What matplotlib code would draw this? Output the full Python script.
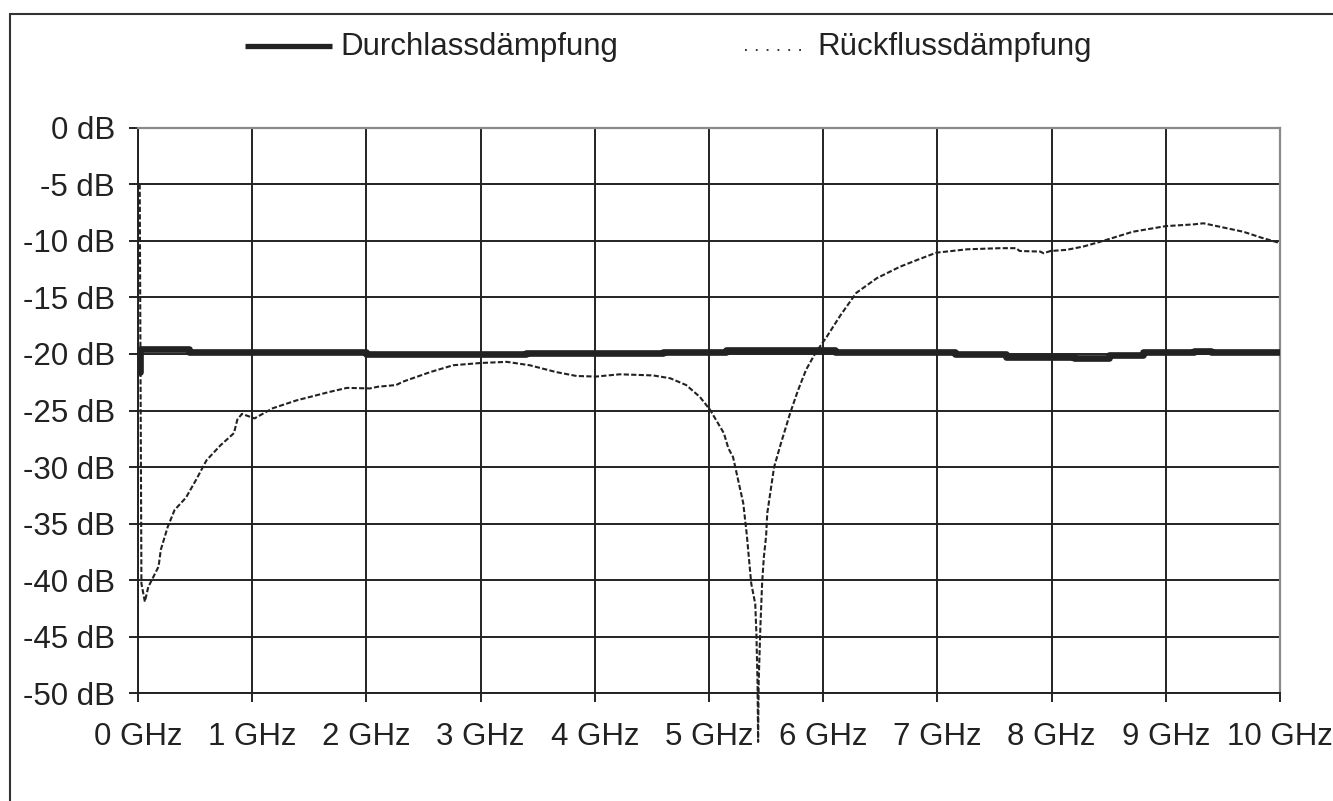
import numpy as np
import matplotlib
matplotlib.use("Agg")
import matplotlib.pyplot as plt
from matplotlib.lines import Line2D
from matplotlib.patches import Rectangle

plt.rcParams['font.family'] = ['Liberation Sans', 'DejaVu Sans']

# Durchlassdämpfung (thick solid, roughly flat around -20 dB), step values
durch_ghz = [0.0, 0.02, 0.45, 2.0, 3.4, 4.6, 5.15, 6.1, 6.7, 7.15, 7.6, 8.2, 8.5, 8.8, 9.25, 9.4, 10.0]
durch_db = [-21.6, -19.6, -19.8, -20.0, -19.9, -19.8, -19.65, -19.8, -19.85, -20.0, -20.25, -20.35,
            -20.1, -19.85, -19.7, -19.85, -19.85]

# Rückflussdämpfung (thin dotted)
rueck_ghz = [0.015, 0.03, 0.06, 0.09, 0.18, 0.2, 0.26, 0.32, 0.42, 0.51, 0.6, 0.72, 0.84, 0.87, 0.91,
             0.98, 1.02, 1.18, 1.39, 1.68, 1.83, 2.03, 2.1, 2.26, 2.32, 2.56, 2.76, 3.0, 3.23, 3.43,
             3.66, 3.84, 4.01, 4.22, 4.51, 4.66, 4.8, 4.92, 5.01, 5.13, 5.17, 5.21, 5.23, 5.3, 5.33,
             5.37, 5.405, 5.415, 5.425, 5.43, 5.435, 5.45, 5.465, 5.48, 5.5, 5.51, 5.57, 5.63, 5.71,
             5.78, 5.85, 5.93, 6.03, 6.15, 6.29, 6.47, 6.67, 6.82, 6.99, 7.26, 7.55, 7.69, 7.72, 7.9,
             7.93, 7.99, 8.13, 8.28, 8.42, 8.71, 9.0, 9.24, 9.33, 9.47, 9.68, 9.83, 10.0]
rueck_db = [-5.0, -40.3, -41.9, -40.6, -38.8, -37.3, -35.3, -33.8, -32.7, -31.1, -29.4, -28.1, -27.0,
            -25.8, -25.3, -25.55, -25.7, -24.8, -24.1, -23.35, -23.0, -23.05, -22.9, -22.75, -22.45,
            -21.6, -21.0, -20.8, -20.7, -21.0, -21.6, -21.95, -22.0, -21.8, -21.9, -22.15, -22.75,
            -23.8, -24.95, -27.0, -28.35, -29.1, -30.0, -33.2, -35.9, -40.3, -42.1, -44.7, -49.1,
            -54.3, -49.0, -44.1, -40.3, -38.0, -36.1, -34.1, -30.0, -27.9, -25.25, -23.2, -21.4,
            -19.95, -18.5, -16.6, -14.6, -13.3, -12.3, -11.7, -11.05, -10.75, -10.65, -10.65, -10.9,
            -10.95, -11.1, -10.9, -10.8, -10.5, -10.1, -9.2, -8.7, -8.55, -8.45, -8.75, -9.2, -9.7,
            -10.2]

x_ticks = list(range(0, 11))
x_labels = [f"{v} GHz" for v in x_ticks]
y_ticks = list(range(0, -55, -5))
y_labels = [f"{v} dB" for v in y_ticks]

W, H = 1333, 801
dark = '#222222'
fs = 22.5

fig = plt.figure(figsize=(W / 100, H / 100), dpi=100)
ax = fig.add_axes([138 / W, 1 - 693.3 / H, (1280 - 138) / W, (693.3 - 127.7) / H])

ax.plot(durch_ghz, durch_db, drawstyle='steps-post', color=dark, lw=4.8, zorder=3,
        solid_capstyle='butt')
ax.plot(rueck_ghz, rueck_db, color=dark, lw=1.5, linestyle=(0, (2.5, 1.1)), zorder=4, clip_on=False)

ax.set_xlim(0, 10)
ax.set_ylim(-50, 0)
ax.set_xticks(x_ticks)
ax.set_xticklabels(x_labels)
ax.set_yticks(y_ticks)
ax.set_yticklabels(y_labels)
ax.grid(True, color=dark, lw=1.4)
ax.set_axisbelow(True)

for side in ['left', 'bottom']:
    ax.spines[side].set_color(dark)
    ax.spines[side].set_linewidth(1.4)
for side in ['top', 'right']:
    ax.spines[side].set_color('#8a8a8a')
    ax.spines[side].set_linewidth(1.6)

ax.tick_params(axis='both', direction='out', length=6.5, width=1.4, color=dark,
               labelsize=fs, labelcolor=dark)
ax.tick_params(axis='y', pad=10)
ax.tick_params(axis='x', pad=14)

# outer frame
fig.add_artist(Rectangle((9.5 / W, -0.1), 1.2, 1 - 14.3 / H + 0.1, transform=fig.transFigure,
                         fill=False, lw=1.5, ec='#333333'))

# legend drawn by hand
fig.add_artist(Line2D([245 / W, 332 / W], [1 - 45.7 / H] * 2, transform=fig.transFigure,
                      color=dark, lw=3.8, solid_capstyle='butt'))
fig.text(340 / W, 1 - 55 / H, "Durchlassdämpfung", fontsize=fs, color=dark, va='baseline')
fig.add_artist(Line2D([745 / W, 808 / W], [1 - 50 / H] * 2, transform=fig.transFigure,
                      color=dark, lw=1.3, linestyle=(0, (1, 5))))
fig.text(817 / W, 1 - 55 / H, "Rückflussdämpfung", fontsize=fs, color=dark, va='baseline')

fig.savefig('out.png', dpi=100, facecolor='white')
